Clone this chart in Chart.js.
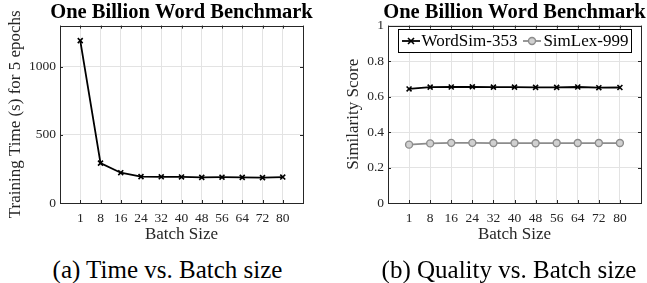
<!DOCTYPE html>
<html lang="en">
<head>
<meta charset="UTF-8">
<title>One Billion Word Benchmark</title>
<script src="https://cdn.jsdelivr.net/npm/chart.js"></script>
<style>
    body {
        margin: 0;
        background: #fff;
        width: 647px;
        height: 283px;
        position: relative;
        overflow: hidden;
        font-family: 'Liberation Serif', 'Times New Roman', serif;
    }
    .panel { position: absolute; top: 0; height: 250px; }
    #timePanel { left: 0; width: 363px; }
    #qualityPanel { left: 330px; width: 369px; }
    .caption {
        position: absolute;
        top: 257px;
        font-size: 25px;
        line-height: 25px;
        white-space: nowrap;
        transform: translateX(-50%);
        color: #000;
    }
</style>
</head>
<body>

<div class="panel" id="timePanel"><canvas id="timeChart"></canvas></div>
<div class="panel" id="qualityPanel"><canvas id="qualityChart"></canvas></div>
<div class="caption" style="left:167.5px">(a) Time vs. Batch size</div>
<div class="caption" style="left:509px">(b) Quality vs. Batch size</div>

<script>
    // values
    const batchSizes = ['1', '8', '16', '24', '32', '40', '48', '56', '64', '72', '80'];
    const trainingTime = [1190, 292, 222, 193, 192, 191, 188, 189, 188, 186, 190];
    const wordSim = [0.643, 0.653, 0.654, 0.655, 0.653, 0.653, 0.652, 0.652, 0.654, 0.650, 0.651];
    const simLex = [0.329, 0.336, 0.339, 0.339, 0.338, 0.338, 0.337, 0.338, 0.338, 0.338, 0.338];
    const timeTicks = [0, 500, 1000];
    const scoreTicks = [0, 0.2, 0.4, 0.6, 0.8, 1];

    const inkColor = '#262626';
    const gridColor = '#e3e3e3';
    const simLexColor = '#8c8c8c';
    const serif = "'Liberation Serif', 'Times New Roman', serif";

    Chart.defaults.font.family = serif;

    const toPoints = vals => vals.map((y, i) => ({ x: i + 1, y: y }));

    // full box around the plot with small inward ticks (matlab look)
    const framePlugin = {
        id: 'frame',
        beforeDatasetsDraw(chart) {
            const { ctx, chartArea: a, scales: { x, y } } = chart;
            ctx.save();
            ctx.strokeStyle = inkColor;
            ctx.lineWidth = 1;
            ctx.beginPath();
            x.ticks.forEach(t => {
                const px = Math.round(x.getPixelForValue(t.value)) + 0.5;
                ctx.moveTo(px, a.bottom); ctx.lineTo(px, a.bottom - 3);
                ctx.moveTo(px, a.top); ctx.lineTo(px, a.top + 3);
            });
            y.ticks.forEach(t => {
                const py = Math.round(y.getPixelForValue(t.value)) + 0.5;
                ctx.moveTo(a.left, py); ctx.lineTo(a.left + 3, py);
                ctx.moveTo(a.right, py); ctx.lineTo(a.right - 3, py);
            });
            ctx.stroke();
            ctx.strokeRect(Math.round(a.left) + 0.5, Math.round(a.top) + 0.5,
                Math.round(a.right - a.left), Math.round(a.bottom - a.top));
            ctx.restore();
        }
    };

    // little line+marker swatch for the legend
    function swatch(color, marker) {
        const c = document.createElement('canvas');
        c.width = 18; c.height = 12;
        const g = c.getContext('2d');
        g.strokeStyle = color;
        g.lineWidth = 1.8;
        g.beginPath(); g.moveTo(0, 6); g.lineTo(18, 6); g.stroke();
        if (marker === 'cross') {
            g.lineWidth = 1.6;
            g.beginPath();
            g.moveTo(6, 3); g.lineTo(12, 9);
            g.moveTo(12, 3); g.lineTo(6, 9);
            g.stroke();
        } else {
            g.lineWidth = 1.4;
            g.fillStyle = '#d0d0d0';
            g.beginPath(); g.arc(9, 6, 3.5, 0, Math.PI * 2); g.fill(); g.stroke();
        }
        return c;
    }
    const swatches = [swatch('#000', 'cross'), swatch(simLexColor, 'circle')];

    // one-row boxed legend inside the top of the plot
    const legendBox = {
        id: 'legendBox',
        afterDatasetsDraw(chart) {
            const { ctx, chartArea: a } = chart;
            ctx.save();
            ctx.font = '17px ' + serif;
            const items = chart.data.datasets.map((ds, i) => ({
                text: ds.label, sw: swatches[i], w: ctx.measureText(ds.label).width
            }));
            const swW = 18, gap = 2, itemGap = 6, pad = 3, h = 23;
            const total = pad * 2 + items.reduce((s, it) => s + swW + gap + it.w, 0) + itemGap * (items.length - 1);
            const left = Math.round((a.left + a.right - total) / 2) + 0.5;
            const top = Math.round(a.top + 3) + 0.5;
            ctx.fillStyle = '#fff';
            ctx.fillRect(left, top, total, h);
            ctx.strokeStyle = '#000';
            ctx.lineWidth = 1;
            ctx.strokeRect(left, top, Math.round(total), h);
            const cy = top + h / 2;
            let x = left + pad;
            ctx.fillStyle = '#000';
            ctx.textBaseline = 'middle';
            items.forEach(it => {
                ctx.drawImage(it.sw, Math.round(x), Math.round(cy - 6));
                x += swW + gap;
                ctx.fillText(it.text, x, cy + 1);
                x += it.w + itemGap;
            });
            ctx.restore();
        }
    };

    function makeScales(yMax, yTicks, yTitle, yWidth, yTitlePad, rightWidth) {
        return {
            x: {
                type: 'linear',
                min: 0,
                max: batchSizes.length + 1,
                afterBuildTicks: s => {
                    s.ticks = [...Array(batchSizes.length + 2).keys()].map(v => ({ value: v }));
                },
                afterFit: s => { s.height = 42; },
                grid: { color: gridColor, drawTicks: false },
                border: { display: false },
                ticks: {
                    autoSkip: false, maxRotation: 0, padding: 7,
                    color: inkColor, font: { size: 13.5 },
                    callback: v => batchSizes[v - 1] ?? ''
                },
                title: { display: true, text: 'Batch Size', color: inkColor, font: { size: 17 }, padding: 0 }
            },
            y: {
                min: 0,
                max: yMax,
                afterBuildTicks: s => { s.ticks = yTicks.map(v => ({ value: v })); },
                afterFit: s => { s.width = yWidth; },
                grid: { color: gridColor, drawTicks: false },
                border: { display: false },
                ticks: { padding: 4, color: inkColor, font: { size: 13.5 }, callback: v => String(v) },
                title: {
                    display: true, text: yTitle, color: inkColor, font: { size: 17 },
                    padding: { top: yTitlePad, bottom: 0 }
                }
            },
            // empty right-hand strip so the title centres over the plot
            spacer: {
                type: 'linear',
                position: 'right',
                afterFit: s => { s.width = rightWidth; },
                grid: { display: false, drawTicks: false },
                border: { display: false },
                ticks: { display: false },
                title: { display: false }
            }
        };
    }

    const titleOpts = {
        display: true,
        text: 'One Billion Word Benchmark',
        color: '#000',
        font: { size: 20.5, weight: 'bold' },
        padding: { top: 0, bottom: 1 }
    };

    new Chart(document.getElementById('timeChart'), {
        type: 'line',
        data: {
            datasets: [{
                label: 'Training Time',
                data: toPoints(trainingTime),
                borderColor: '#000',
                borderWidth: 1.8,
                pointStyle: 'crossRot',
                pointRadius: 3.5,
                pointBorderWidth: 1.6,
                pointBorderColor: '#000',
                fill: false
            }]
        },
        options: {
            responsive: true,
            maintainAspectRatio: false,
            animation: false,
            events: [],
            layout: { padding: { left: 0, right: 0, top: 0, bottom: 5 } },
            scales: makeScales(1300, timeTicks, 'Training Time (s) for 5 epochs', 60, 5, 60),
            plugins: {
                title: titleOpts,
                legend: { display: false },
                tooltip: { enabled: false }
            }
        },
        plugins: [framePlugin]
    });

    new Chart(document.getElementById('qualityChart'), {
        type: 'line',
        data: {
            datasets: [{
                label: 'WordSim-353',
                data: toPoints(wordSim),
                borderColor: '#000',
                borderWidth: 1.8,
                pointStyle: 'crossRot',
                pointRadius: 3.5,
                pointBorderWidth: 1.6,
                pointBorderColor: '#000',
                fill: false
            }, {
                label: 'SimLex-999',
                data: toPoints(simLex),
                borderColor: simLexColor,
                borderWidth: 1.8,
                pointStyle: 'circle',
                pointRadius: 3.5,
                pointBorderWidth: 1.4,
                pointBorderColor: simLexColor,
                pointBackgroundColor: '#d0d0d0',
                fill: false
            }]
        },
        options: {
            responsive: true,
            maintainAspectRatio: false,
            animation: false,
            events: [],
            layout: { padding: { left: 0, right: 0, top: 0, bottom: 5 } },
            scales: makeScales(1, scoreTicks, 'Similarity Score', 58, 13, 58),
            plugins: {
                title: titleOpts,
                legend: { display: false },
                tooltip: { enabled: false }
            }
        },
        plugins: [framePlugin, legendBox]
    });
</script>

</body>
</html>
